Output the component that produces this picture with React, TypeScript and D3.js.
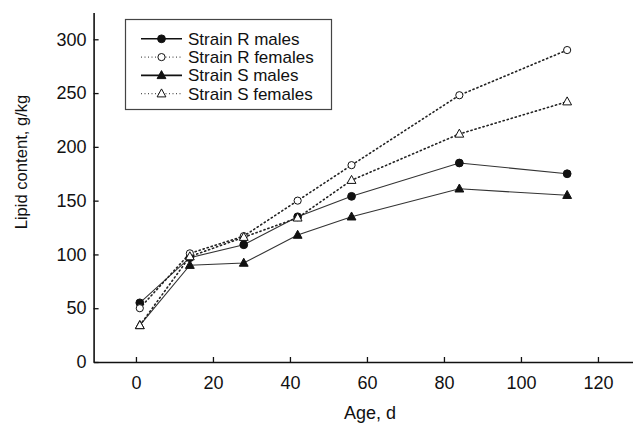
import * as d3 from "d3";
import { useEffect, useRef } from "react";

// ---------------- DATA ----------------
const ages = [1, 14, 28, 42, 56, 84, 112];
const rMales = [55, 97, 109, 135, 154, 185, 175];
const rFemales = [50, 101, 117, 150, 183, 248, 290];
const sMales = [34, 90, 92, 118, 135, 161, 155];
const sFemales = [34, 98, 116, 134, 169, 212, 242];

const xTicks = [0, 20, 40, 60, 80, 100, 120];
const yTicks = [0, 50, 100, 150, 200, 250, 300];

const seriesNames = ["Strain R males", "Strain R females", "Strain S males", "Strain S females"];

const W = 633;
const H = 425;

export default function App() {
  const refSvg = useRef<SVGSVGElement>(null);

  useEffect(() => {
    const svg = d3.select(refSvg.current);
    svg.selectAll("*").remove();

    const X = d3.scaleLinear().domain([-11, 129]).range([93.6, 632.6]);
    const Y = d3.scaleLinear().domain([0, 325]).range([362, 12.4]);

    const font = "'Liberation Sans', Arial, sans-serif";
    const ink = "#111";

    //   ----------- AXES -----------
    const gx = svg.append("g")
      .attr("transform", `translate(0,${Y(0)})`)
      .call(d3.axisBottom(X).tickValues(xTicks).tickSizeInner(-5).tickSizeOuter(0).tickPadding(14));

    const gy = svg.append("g")
      .attr("transform", `translate(${X(-11)},0)`)
      .call(d3.axisLeft(Y).tickValues(yTicks).tickSizeInner(-5).tickSizeOuter(0).tickPadding(7));

    [gx, gy].forEach((g) => {
      g.select(".domain").attr("stroke", ink).attr("stroke-width", 1.6);
      g.selectAll(".tick line").attr("stroke", ink).attr("stroke-width", 1.3);
      g.selectAll("text")
        .attr("fill", ink)
        .style("font-family", font)
        .style("font-size", "18px");
    });

    // the reference crops this label at the bottom edge; keep it just inside
    svg.append("text").text("Age, d")
      .attr("x", 370)
      .attr("y", 419)
      .attr("text-anchor", "middle")
      .attr("fill", ink)
      .style("font-family", font)
      .style("font-size", "18px");

    svg.append("text").text("Lipid content, g/kg")
      .attr("transform", `translate(27,${162}) rotate(-90)`)
      .attr("text-anchor", "middle")
      .attr("fill", ink)
      .style("font-family", font)
      .style("font-size", "16.6px");

    //   ----------- SERIES -----------
    const line = d3.line<[number, number]>().x((d) => X(d[0])).y((d) => Y(d[1]));

    const series = [
      { vals: rMales, dotted: false, shape: "circle", filled: true },
      { vals: sMales, dotted: false, shape: "triangle", filled: true },
      { vals: rFemales, dotted: true, shape: "circle", filled: false },
      { vals: sFemales, dotted: true, shape: "triangle", filled: false },
    ];

    const triPath = "M0,-4.8L4.4,3.2L-4.4,3.2Z";

    const drawMarker = (g: any, shape: string, filled: boolean, cx: number, cy: number) => {
      if (shape === "circle") {
        g.append("circle")
          .attr("cx", cx).attr("cy", cy)
          .attr("r", filled ? 3.9 : 3.6)
          .attr("fill", filled ? ink : "white")
          .attr("stroke", ink)
          .attr("stroke-width", 1);
      } else {
        g.append("path")
          .attr("d", triPath)
          .attr("transform", `translate(${cx},${cy})`)
          .attr("fill", filled ? ink : "white")
          .attr("stroke", ink)
          .attr("stroke-width", 1);
      }
    };

    const gData = svg.append("g");
    series.forEach((s) => {
      const pts = ages.map((a, i) => [a, s.vals[i]] as [number, number]);
      gData.append("path")
        .attr("d", line(pts))
        .attr("fill", "none")
        .attr("stroke", s.dotted ? "#222" : "#333")
        .attr("stroke-width", s.dotted ? 1.6 : 1.1)
        .attr("stroke-dasharray", s.dotted ? "1.2,3" : null)
        .attr("stroke-linecap", s.dotted ? "round" : "butt");
    });
    series.forEach((s) => {
      ages.forEach((a, i) => drawMarker(gData, s.shape, s.filled, X(a), Y(s.vals[i])));
    });

    //   ----------- LEGEND -----------
    const gLeg = svg.append("g");
    gLeg.append("rect")
      .attr("x", 125.5).attr("y", 19.5)
      .attr("width", 206).attr("height", 90)
      .attr("fill", "white")
      .attr("stroke", "#444")
      .attr("stroke-width", 1.2);

    const legendStyle = [
      { dotted: false, shape: "circle", filled: true },
      { dotted: true, shape: "circle", filled: false },
      { dotted: false, shape: "triangle", filled: true },
      { dotted: true, shape: "triangle", filled: false },
    ];
    const rowY = [38.8, 57.1, 75.4, 93.7];

    seriesNames.forEach((name, i) => {
      const st = legendStyle[i];
      const yy = rowY[i];
      gLeg.append("line")
        .attr("x1", 141).attr("x2", 182)
        .attr("y1", yy).attr("y2", yy)
        .attr("stroke", st.dotted ? "#555" : ink)
        .attr("stroke-width", st.dotted ? 1.2 : 1.6)
        .attr("stroke-dasharray", st.dotted ? "1,2.5" : null);
      drawMarker(gLeg, st.shape, st.filled, 161.5, yy);
      gLeg.append("text").text(name)
        .attr("x", 188)
        .attr("y", yy + 6)
        .attr("fill", ink)
        .style("font-family", font)
        .style("font-size", "17px");
    });
  }, []);

  return (
    <svg
      ref={refSvg}
      width={W}
      height={H}
      style={{ position: "absolute", left: 0, top: 0, background: "white" }}
    />
  );
}
